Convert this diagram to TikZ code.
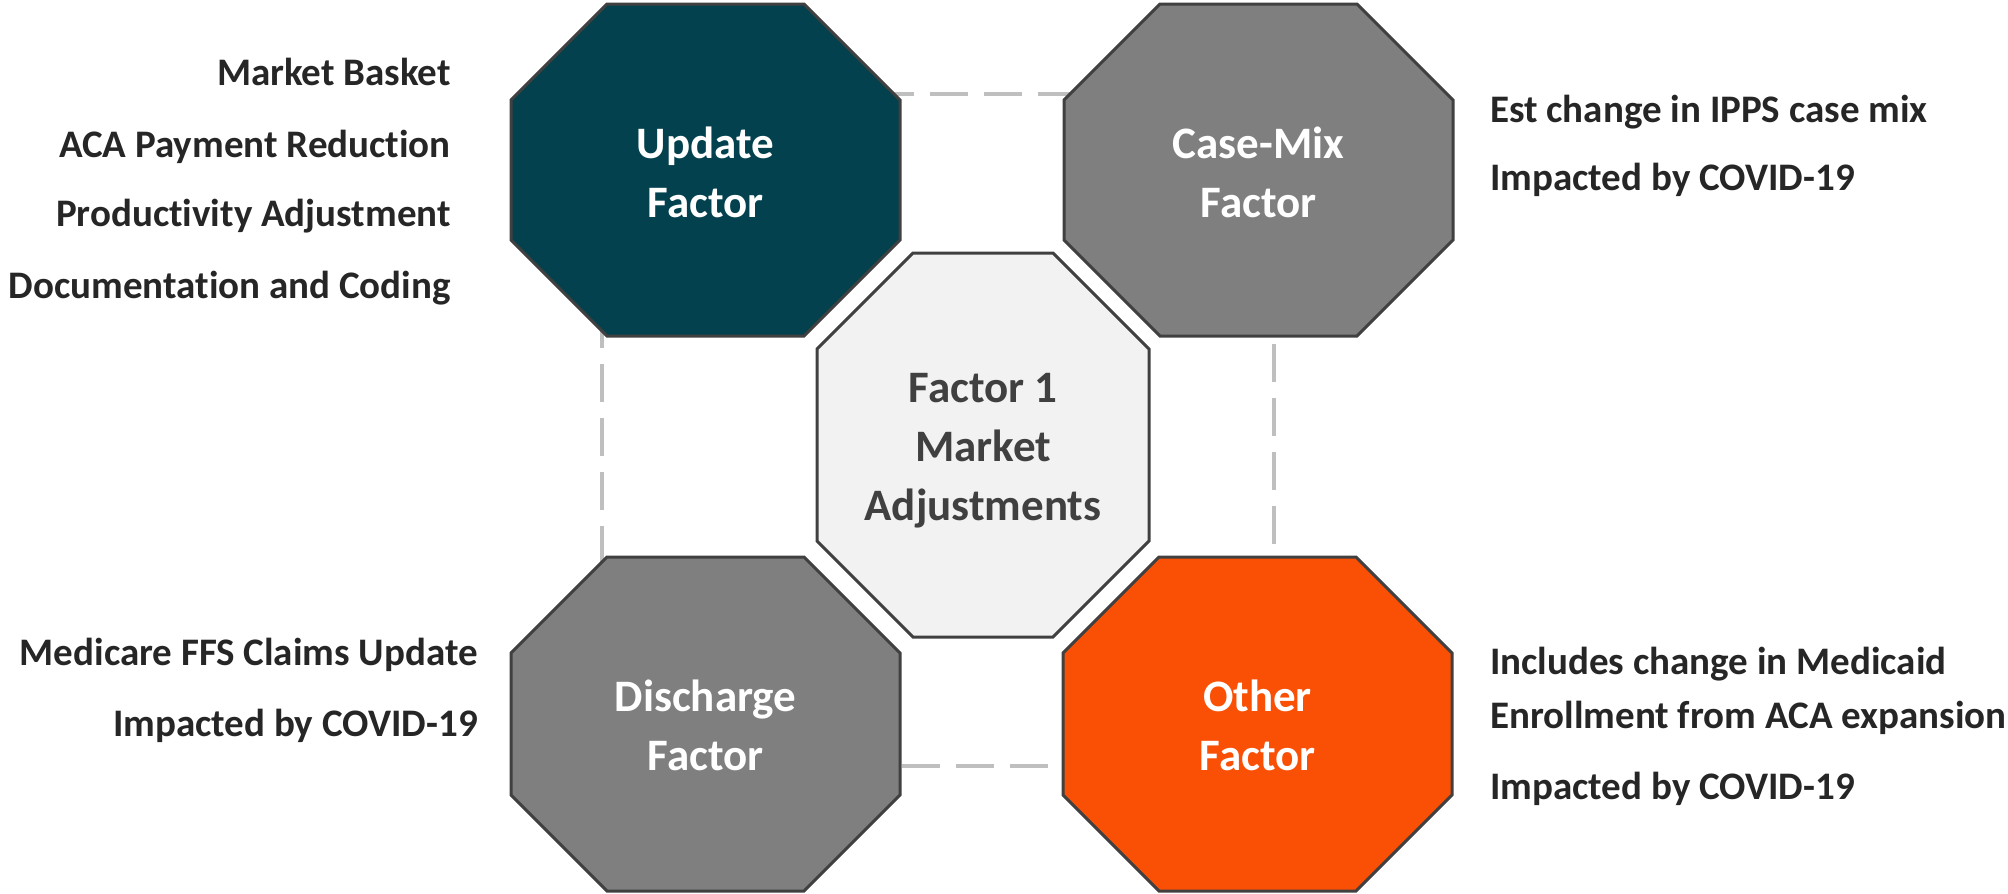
\documentclass[tikz,border=0pt]{standalone}
\usepackage{fontspec}
\setmainfont{Carlito}[Ligatures=NoCommon]
\usetikzlibrary{positioning}

\definecolor{updteal}{HTML}{03414E}
\definecolor{midgray}{HTML}{7F7F7F}
\definecolor{othorange}{HTML}{F95006}
\definecolor{paleback}{HTML}{F2F2F2}
\definecolor{edgegray}{HTML}{404040}
\definecolor{dashgray}{HTML}{BFBFBF}
\definecolor{notegray}{HTML}{262626}

% octagon with 96 unit corners: centre x, centre y, width, height, fill
\newcommand{\octshape}[5]{
    \filldraw[octedge, fill=#5]
        ({#1-#3/2+96},{#2-#4/2}) -- ({#1+#3/2-96},{#2-#4/2}) --
        ({#1+#3/2},{#2-#4/2+96}) -- ({#1+#3/2},{#2+#4/2-96}) --
        ({#1+#3/2-96},{#2+#4/2}) -- ({#1-#3/2+96},{#2+#4/2}) --
        ({#1-#3/2},{#2+#4/2-96}) -- ({#1-#3/2},{#2-#4/2+96}) -- cycle;
}

\begin{document}
\begin{tikzpicture}[x=1pt, y=-1pt]
    \tikzstyle{octedge}=[draw=edgegray, line width=3pt, line join=miter]
    \tikzstyle{octlabel}=[align=center, font=\bfseries\fontsize{45}{59}\selectfont, text=white, anchor=base]
    \tikzstyle{noteR}=[anchor=base east, inner sep=0pt, font=\bfseries\fontsize{39}{44}\selectfont, text=notegray]
    \tikzstyle{noteL}=[anchor=base west, inner sep=0pt, font=\bfseries\fontsize{39}{44}\selectfont, text=notegray]
    \tikzstyle{frame}=[dashgray, line width=4pt, dash pattern=on 38pt off 16pt]

    \useasboundingbox (0,0) rectangle (2008,894);

    % dashed square behind the octagons
    \draw[frame] (602,94) rectangle (1274,766);

    \octshape{705.5}{170}{389}{332}{updteal}
    \octshape{1258.5}{170}{389}{332}{midgray}
    \octshape{705.5}{724}{389}{334}{midgray}
    \octshape{1257.5}{724}{389}{334}{othorange}
    \octshape{983}{445}{332}{384}{paleback}

    % labels sit on the baseline of their last line
    \node[octlabel] (upd) at (705.5,217) {Update\\Factor};
    \node[octlabel] (cmx) at (1258.5,217) {Case-Mix\\Factor};
    \node[octlabel] (dis) at (705.5,770) {Discharge\\Factor};
    \node[octlabel] (oth) at (1257.5,770) {Other\\Factor};
    \node[octlabel, text=edgegray] (ctr) at (983,520) {Factor 1\\Market\\Adjustments};

    \node[noteR] (mb) at (451,85) {Market Basket};
    \node[noteR] (aca) at (451,157) {ACA Payment Reduction};
    \node[noteR] (prod) at (451,226) {Productivity Adjustment};
    \node[noteR] (doc) at (451,298) {Documentation and Coding};

    \node[noteL] (ipps) at (1490,122) {Est change in IPPS case mix};
    \node[noteL] (covA) at (1490,190) {Impacted by COVID-19};

    \node[noteR] (ffs) at (478,665) {Medicare FFS Claims Update};
    \node[noteR] (covB) at (478,736) {Impacted by COVID-19};

    \node[noteL] (mcd) at (1490,674) {Includes change in Medicaid};
    \node[noteL] (enr) at (1490,728) {Enrollment from ACA expansion};
    \node[noteL] (covC) at (1490,799) {Impacted by COVID-19};
\end{tikzpicture}
\end{document}
